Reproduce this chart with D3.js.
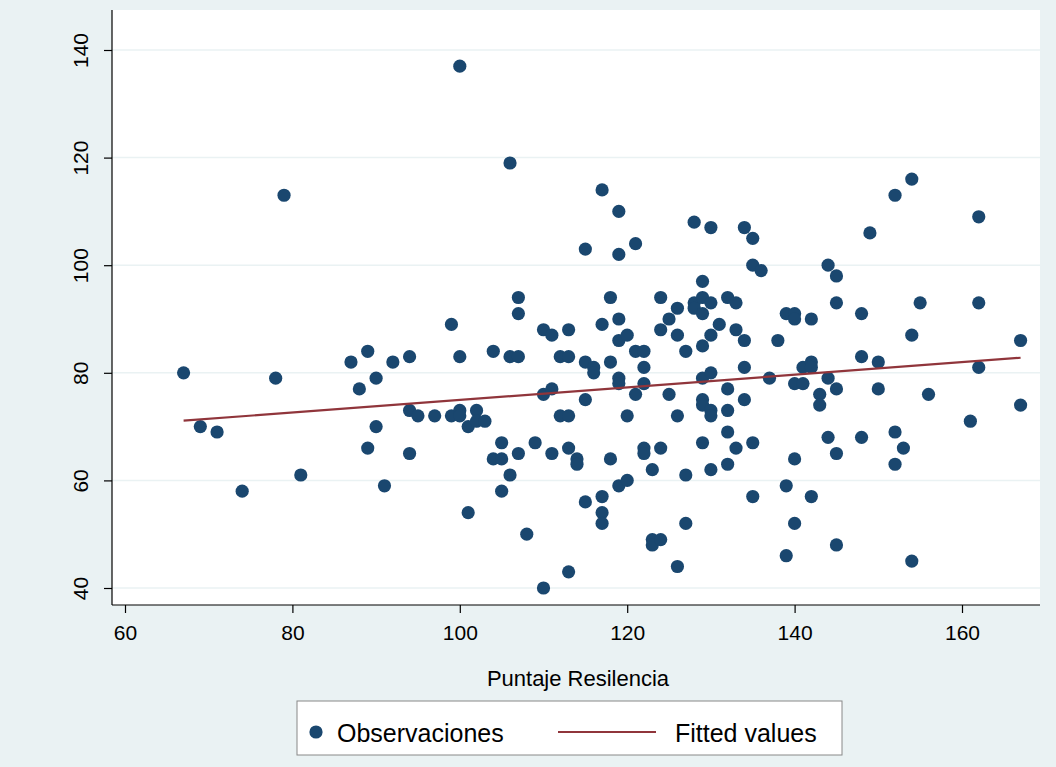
<!DOCTYPE html>
<html><head><meta charset="utf-8">
<script src="https://cdn.jsdelivr.net/npm/d3@7"></script>
<style>body{margin:0;background:#eaf2f3;} text{font-family:"Liberation Sans",Arial,sans-serif;fill:#000;}</style>
</head><body>
<script>
// Puntaje Resilencia (x) vs score (y)
const obsX = [67,69,71,74,78,79,81,87,88,89,89,90,90,91,92,94,94,94,95,97,99,99,100,100,100,100,101,101,102,102,103,104,104,105,105,105,106,106,106,107,107,107,107,108,109,110,110,110,111,111,111,112,112,113,113,113,113,113,114,114,115,115,115,115,116,116,117,117,117,117,117,118,118,118,119,119,119,119,119,119,119,120,120,120,121,121,121,122,122,122,122,122,123,123,123,124,124,124,124,125,125,126,126,126,126,127,127,127,128,128,128,129,129,129,129,129,129,129,129,130,130,130,130,130,130,130,131,132,132,132,132,132,133,133,133,134,134,134,134,135,135,135,135,136,137,138,139,139,139,140,140,140,140,140,141,141,142,142,142,142,143,143,144,144,144,145,145,145,145,145,148,148,148,149,150,150,152,152,152,153,154,154,154,155,156,161,162,162,162,167,167];
const obsY = [80,70,69,58,79,113,61,82,77,84,66,79,70,59,82,83,73,65,72,72,89,72,137,83,73,72,70,54,73,71,71,84,64,67,64,58,119,83,61,94,91,83,65,50,67,88,76,40,87,77,65,83,72,88,83,72,66,43,64,63,103,82,75,56,81,80,114,89,57,54,52,94,82,64,110,102,90,86,79,78,59,87,72,60,104,84,76,84,81,78,66,65,62,49,48,94,88,66,49,90,76,92,87,72,44,84,61,52,108,93,92,97,94,91,85,79,75,74,67,107,93,87,80,73,72,62,89,94,77,73,69,63,93,88,66,107,86,81,75,105,100,67,57,99,79,86,91,59,46,91,90,78,64,52,81,78,90,82,81,57,76,74,100,79,68,98,93,77,65,48,91,83,68,106,82,77,113,69,63,66,116,87,45,93,76,71,109,93,81,86,74];
const fitX = [67, 167];
const fitY = [71.1, 82.8];
const xTicks = [60,80,100,120,140,160];
const yTicks = [40,60,80,100,120,140];

const W = 1056, H = 767;
const svg = d3.select("body").append("svg").attr("width", W).attr("height", H);
svg.append("rect").attr("width", W).attr("height", H).attr("fill", "#eaf2f3");

const pl = 112, pr = 1040, pt = 10, pb = 605;
svg.append("rect").attr("x", pl).attr("y", pt).attr("width", pr - pl).attr("height", pb - pt).attr("fill", "#fff");

const x = d3.scaleLinear().domain([60, 160]).range([125, 962]);
const y = d3.scaleLinear().domain([40, 140]).range([588, 50]);

// gridlines
svg.selectAll(".grid").data(yTicks).enter().append("line")
  .attr("x1", pl).attr("x2", pr).attr("y1", d => y(d)).attr("y2", d => y(d))
  .attr("stroke", "#eaf2f3").attr("stroke-width", 1.5);

// axes
const yAxis = svg.append("g").attr("transform", "translate(" + pl + ",0)")
  .call(d3.axisLeft(y).tickValues(yTicks).tickSize(8));
yAxis.selectAll("text").attr("transform", "rotate(-90)")
  .attr("x", 0).attr("y", -24).attr("dy", 0).style("text-anchor", "middle").style("font-size", "21px");
yAxis.select(".domain").attr("d", "M0," + pt + "V" + pb);

const xAxis = svg.append("g").attr("transform", "translate(0," + pb + ")")
  .call(d3.axisBottom(x).tickValues(xTicks).tickSize(8).tickPadding(12));
xAxis.selectAll("text").style("font-size", "21px");
xAxis.select(".domain").attr("d", "M" + pl + ",0H" + pr);
svg.selectAll(".domain, .tick line").attr("stroke", "#000").attr("stroke-width", 1.2);

svg.append("text").attr("x", (pl + pr) / 2 + 2).attr("y", 686).style("text-anchor", "middle")
  .style("font-size", "22px").text("Puntaje Resilencia");

// points
svg.selectAll(".pt").data(obsX).enter().append("circle")
  .attr("cx", d => x(d)).attr("cy", (d, i) => y(obsY[i])).attr("r", 6.6)
  .attr("fill", "#1a476f");

// fitted line
svg.append("path").datum(fitX)
  .attr("d", d3.line().x(d => x(d)).y((d, i) => y(fitY[i])))
  .attr("stroke", "#90353b").attr("stroke-width", 2.2).attr("fill", "none");

// legend
const lg = svg.append("g");
lg.append("rect").attr("x", 297).attr("y", 701).attr("width", 545).attr("height", 54)
  .attr("fill", "#fff").attr("stroke", "#888").attr("stroke-width", 1);
lg.append("circle").attr("cx", 316).attr("cy", 732).attr("r", 6.6).attr("fill", "#1a476f");
lg.append("text").attr("x", 337).attr("y", 742).style("font-size", "25px").text("Observaciones");
lg.append("line").attr("x1", 558).attr("x2", 656).attr("y1", 732).attr("y2", 732)
  .attr("stroke", "#90353b").attr("stroke-width", 2.2);
lg.append("text").attr("x", 675).attr("y", 742).style("font-size", "25px").text("Fitted values");
</script>
</body></html>
